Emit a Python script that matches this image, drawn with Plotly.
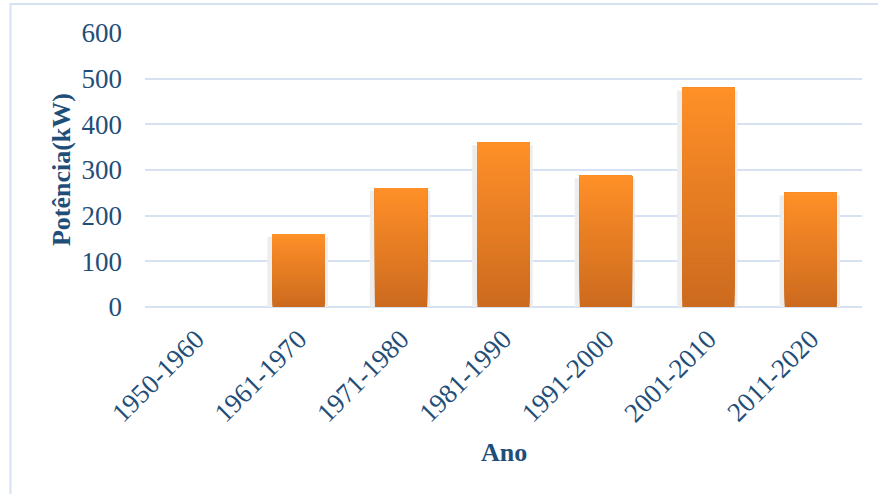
import plotly.graph_objects as go

# Installed power per decade
decades = ["1950-1960", "1961-1970", "1971-1980", "1981-1990",
           "1991-2000", "2001-2010", "2011-2020"]
power_kw = [0, 160, 260, 360, 288, 480, 250]
y_ticks = [0, 100, 200, 300, 400, 500, 600]

TEXT = "#1F4E79"
GRID = "#D6E2F3"
TOP = (255, 144, 40)
BOTTOM = (204, 106, 30)
N_SLICES = 40

fig = go.Figure()

# soft grey shadow behind each column
fig.add_trace(go.Bar(
    x=decades, y=power_kw, base=-6,
    width=0.59, offset=-0.305,
    marker=dict(color="#EDEDED", line=dict(width=0)),
    hoverinfo="skip", showlegend=False,
))

# vertical gradient: overlapping layers, each running from its start up to the column top
for i in range(N_SLICES):
    t = i / (N_SLICES - 1)
    r, g, b = (round(BOTTOM[k] + (TOP[k] - BOTTOM[k]) * t) for k in range(3))
    fig.add_trace(go.Bar(
        x=decades,
        y=[v * (1 - i / N_SLICES) for v in power_kw],
        base=[v * i / N_SLICES for v in power_kw],
        width=0.51,
        marker=dict(color=f"rgb({r},{g},{b})", line=dict(width=0)),
        hoverinfo="skip" if i else "x+y",
        showlegend=False,
    ))

fig.update_layout(
    width=878, height=494,
    margin=dict(l=145, r=16, t=33, b=187),
    paper_bgcolor="white", plot_bgcolor="white",
    barmode="overlay",
    font=dict(family="Liberation Serif, Times New Roman, serif", color=TEXT, size=27),
    xaxis=dict(
        tickangle=-45, showgrid=False, showline=False, zeroline=False,
        ticks="", ticklabelstandoff=10, tickfont=dict(size=27, color=TEXT),
    ),
    yaxis=dict(
        range=[0, 600], tickvals=y_ticks, showgrid=True,
        gridcolor=GRID, gridwidth=2, zeroline=True, zerolinecolor=GRID,
        zerolinewidth=2, showline=False, ticks="", ticklabelstandoff=22,
        tickfont=dict(size=27, color=TEXT),
    ),
    annotations=[
        dict(text="<b>Potência(kW)</b>", xref="paper", yref="paper",
             x=-0.117, y=0.5, textangle=-90, showarrow=False,
             font=dict(size=26, color=TEXT), xanchor="center", yanchor="middle"),
        dict(text="<b>Ano</b>", xref="paper", yref="paper",
             x=0.5, y=-0.532, showarrow=False,
             font=dict(size=26, color=TEXT), xanchor="center", yanchor="middle"),
    ],
    shapes=[
        dict(type="rect", xref="paper", yref="paper",
             x0=-0.1876, x1=1.2, y0=-1.0, y1=1.1058,
             line=dict(color="#D6E2F3", width=2), fillcolor="rgba(0,0,0,0)",
             layer="below"),
    ],
)

fig.write_html("out.html")
